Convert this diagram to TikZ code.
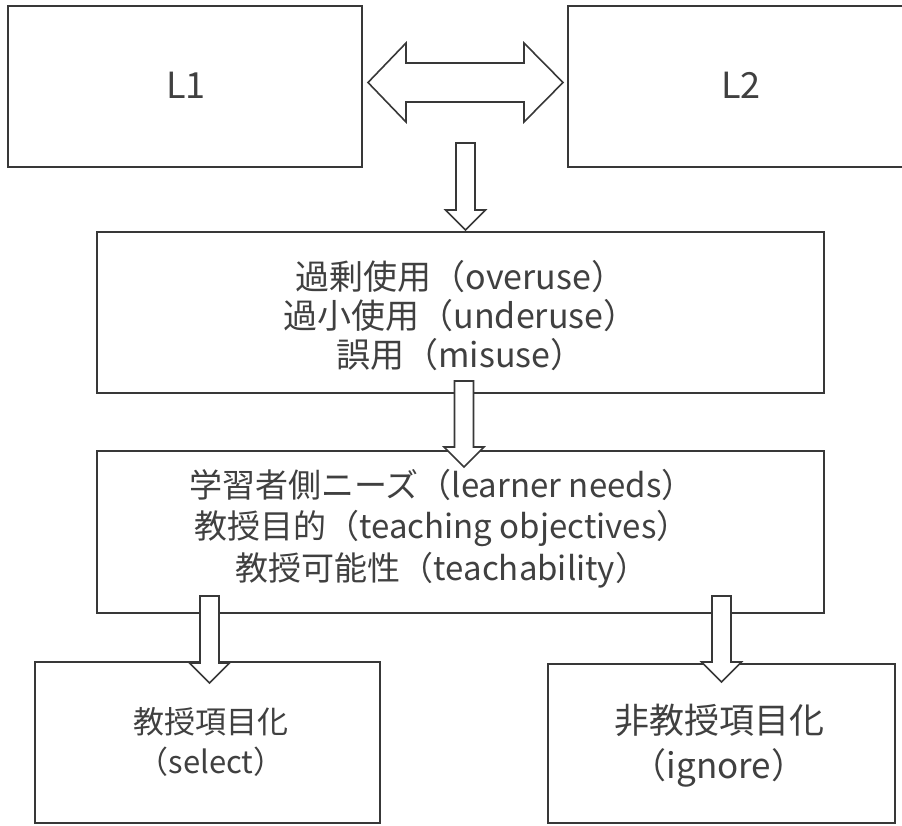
\documentclass[tikz,border=0pt]{standalone}
\usepackage{fontspec}
\setmainfont{Noto Sans CJK JP}
\begin{document}
\begin{tikzpicture}[x=1pt,y=-1pt,
  line width=1.6pt,
  box/.style={draw=black!78,fill=white,rectangle,inner sep=0pt,outer sep=0pt},
  txt/.style={align=center,text=black!75,inner sep=0pt},
  blockarrow/.style={draw=black!78,fill=white,line join=miter},
  pics/downarrow/.style={code={
    % shaft top at the origin, tip #1 below it
    \path[blockarrow] (-9.5,0) -- (9.5,0) -- (9.5,#1-20) -- (20,#1-20) -- (0,#1)
      -- (-20,#1-20) -- (-9.5,#1-20) -- cycle;}}
]
\useasboundingbox (0,0) rectangle (902,825);

% boxes (L2 runs past the right margin)
\node[box,minimum width=354pt,minimum height=161pt] (L1) at (185,86.5) {};
\node[box,minimum width=344pt,minimum height=161pt] (L2) at (740,86.5) {};
\node[box,minimum width=727pt,minimum height=161pt] (use) at (460.5,312.5) {};
\node[box,minimum width=727pt,minimum height=162pt] (needs) at (460.5,532) {};
\node[box,minimum width=345pt,minimum height=161pt] (select) at (207.5,742.5) {};
\node[box,minimum width=347pt,minimum height=159pt] (ignore) at (721.5,743.5) {};

% box texts
\node[txt,font=\fontsize{36}{40}\selectfont] (L1t) at (186,85) {L1};
\node[txt,font=\fontsize{36}{40}\selectfont] (L2t) at (741,85) {L2};
\node[txt,font=\fontsize{34}{39}\selectfont] (uset) at (460.5,316)
  {過剰使用（overuse）\\過小使用（underuse）\\誤用（misuse）};
\node[txt,font=\fontsize{33}{41.5}\selectfont] (needst) at (442,528.5)
  {学習者側ニーズ（learner needs）\\教授目的（teaching objectives）\\教授可能性（teachability）};
\node[txt,font=\fontsize{31}{40}\selectfont] (selectt) at (211,742)
  {教授項目化\\（select）};
\node[txt,font=\fontsize{35}{45}\selectfont] (ignoret) at (719,746)
  {非教授項目化\\（ignore）};

% two-headed block arrow between L1 and L2
\path[blockarrow] (368,82.5) -- (406,43) -- (406,63) -- (524,63) -- (524,43)
  -- (563,82.5) -- (524,122) -- (524,102) -- (406,102) -- (406,122) -- cycle;

% downward block arrows
\pic at (465.5,143) {downarrow=87};
\pic at (464,381) {downarrow=86};
\pic at (209.5,596) {downarrow=87};
\pic at (721.5,596) {downarrow=86};
\end{tikzpicture}
\end{document}
